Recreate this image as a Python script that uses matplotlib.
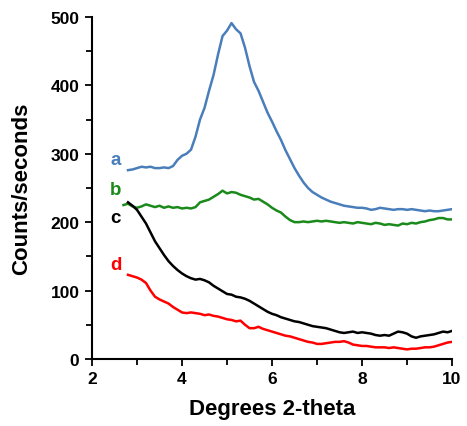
import matplotlib.pyplot as plt
from matplotlib.ticker import MultipleLocator

plt.rcParams['font.family'] = ['Liberation Sans', 'DejaVu Sans']
plt.rcParams['font.weight'] = 'bold'

# Degrees 2-theta grid (2.7 ... 10.0)
two_theta = [2.7, 2.8, 2.9, 3.0, 3.1, 3.2, 3.3, 3.4, 3.5, 3.6, 3.7, 3.8, 3.9,
             4.0, 4.1, 4.2, 4.3, 4.4, 4.5, 4.6, 4.7, 4.8, 4.9,
             5.0, 5.1, 5.2, 5.3, 5.4, 5.5, 5.6, 5.7, 5.8, 5.9,
             6.0, 6.1, 6.2, 6.3, 6.4, 6.5, 6.6, 6.7, 6.8, 6.9,
             7.0, 7.1, 7.2, 7.3, 7.4, 7.5, 7.6, 7.7, 7.8, 7.9,
             8.0, 8.1, 8.2, 8.3, 8.4, 8.5, 8.6, 8.7, 8.8, 8.9,
             9.0, 9.1, 9.2, 9.3, 9.4, 9.5, 9.6, 9.7, 9.8, 9.9, 10.0]

# curve a starts at 2.8
counts_a = [276, 277, 279, 281, 280, 281, 279, 279, 280, 279, 282, 291,
            297, 300, 306, 325, 350, 367, 392, 415, 445, 472,
            480, 491, 482, 476, 455, 428, 405, 392, 376, 360,
            347, 333, 320, 305, 292, 279, 268, 258, 250, 244,
            240, 236, 233, 230, 228, 226, 224, 223, 222, 221,
            221, 220, 218, 219, 221, 220, 219, 218, 219, 219,
            218, 219, 218, 217, 216, 217, 216, 216, 217, 218, 219]

# curve b starts at 2.7
counts_b = [225, 227, 223, 221, 223, 226, 224, 222, 224, 221, 223, 221, 222,
            220, 221, 220, 222, 229, 231, 233, 237, 241, 246,
            242, 244, 243, 240, 238, 236, 233, 234, 230, 226,
            221, 217, 214, 208, 203, 200, 200, 201, 200, 201,
            202, 201, 202, 201, 200, 199, 200, 199, 198, 200,
            199, 198, 197, 199, 198, 196, 197, 196, 195, 198,
            197, 199, 198, 200, 201, 203, 204, 206, 206, 204, 204]

# curve c starts at 2.8
counts_c = [229, 224, 218, 208, 198, 185, 172, 162, 152, 143, 136, 130,
            125, 121, 118, 116, 117, 115, 112, 107, 103, 99,
            95, 94, 91, 90, 88, 85, 81, 77, 73, 69,
            66, 64, 61, 59, 57, 55, 54, 52, 50, 48,
            47, 46, 45, 43, 41, 39, 38, 39, 40, 38,
            39, 38, 37, 35, 34, 35, 34, 37, 40, 39,
            37, 33, 31, 33, 34, 35, 36, 38, 40, 39, 41]

# curve d starts at 2.8
counts_d = [123, 121, 119, 116, 111, 100, 91, 87, 84, 81, 76, 72,
            68, 67, 68, 67, 66, 64, 65, 63, 62, 60,
            58, 57, 55, 56, 50, 45, 45, 47, 44, 42,
            40, 38, 36, 34, 33, 31, 29, 27, 25, 24,
            22, 22, 23, 24, 25, 25, 26, 24, 21, 20,
            19, 19, 18, 17, 17, 17, 16, 17, 16, 15,
            14, 15, 15, 16, 17, 17, 18, 20, 22, 24, 25]

labels = ['a', 'b', 'c', 'd']
colors = ['#4a7ebb', '#1a8a1a', '#000000', '#ff0000']
label_y = [291, 248, 207, 138]

fig = plt.figure(figsize=(4.67, 4.27), dpi=100)
ax = fig.add_axes([0.197, 0.157, 0.771, 0.801])

series = [(two_theta[1:], counts_a), (two_theta, counts_b),
          (two_theta[1:], counts_c), (two_theta[1:], counts_d)]
for (xs, ys), c in zip(series, colors):
    ax.plot(xs, ys, color=c, lw=1.8)

for lab, c, ly in zip(labels, colors, label_y):
    ax.text(2.53, ly, lab, color=c, fontsize=13.5, fontweight='bold',
            ha='center', va='center')

ax.set_xlim(2, 10)
ax.set_ylim(0, 500)
ax.xaxis.set_major_locator(MultipleLocator(2))
ax.xaxis.set_minor_locator(MultipleLocator(1))
ax.yaxis.set_major_locator(MultipleLocator(100))
ax.yaxis.set_minor_locator(MultipleLocator(50))

for s in ['top', 'right']:
    ax.spines[s].set_visible(False)
for s in ['left', 'bottom']:
    ax.spines[s].set_linewidth(1.5)
ax.tick_params(which='both', direction='out', width=1.3, labelsize=12.5)
ax.tick_params(which='major', length=5, pad=4)
ax.tick_params(which='minor', length=4)

ax.set_xlabel('Degrees 2-theta', fontsize=16, fontweight='bold', labelpad=8)
ax.set_ylabel('Counts/seconds', fontsize=16, fontweight='bold', labelpad=13)

fig.savefig('out.png', dpi=100)
